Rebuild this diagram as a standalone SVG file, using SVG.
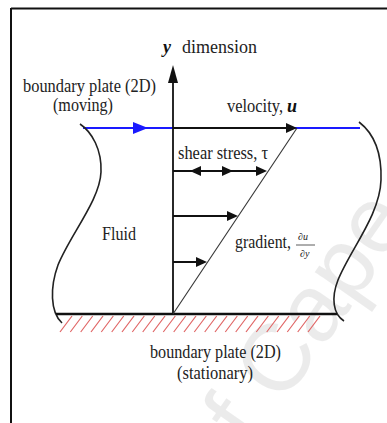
<svg xmlns="http://www.w3.org/2000/svg" width="387" height="423" viewBox="0 0 387 423">
<style>
.t{font-family:"Liberation Serif","Times New Roman",serif;font-size:18px;fill:#222;}
.bi{font-weight:bold;font-style:italic;fill:#111;}
.sm{font-size:10px;font-style:italic;}
.curve{fill:none;stroke:#222;stroke-width:1.6;}
.arr{stroke:#111;stroke-width:2;fill:none;}
.hatch{stroke:#e06565;stroke-width:1.2;}
.wm{font-family:"Liberation Sans",Arial,sans-serif;font-size:95px;fill:#000;fill-opacity:0.08;}
</style>
<defs>
<path id="ah" d="M0,0 L-11,-5 L-11,5 Z" fill="#111"/>
</defs>
<rect width="387" height="423" fill="#fff"/>
<g id="frame">
<line x1="11" y1="8.5" x2="387" y2="8.5" stroke="#111" stroke-width="2"/>
<line x1="11" y1="8" x2="11" y2="423" stroke="#111" stroke-width="2"/>
</g>
<g id="watermark">
<text class="wm" transform="translate(222,492) rotate(-55)">of Cape</text>
</g>
<g id="moving-plate">
<line x1="83" y1="128" x2="360" y2="128" stroke="#1a1aff" stroke-width="2"/>
<path d="M148,128 L133,122 L133,134 Z" fill="#1a1aff"/>
<text class="t" x="23" y="92" textLength="133" lengthAdjust="spacingAndGlyphs">boundary plate (2D)</text>
<text class="t" x="53" y="111" textLength="60" lengthAdjust="spacingAndGlyphs">(moving)</text>
</g>
<g id="fluid">
<path class="curve" d="M80,124 C 92,132 102,150 101,172 C 100,200 70,235 58,265 C 50,287 50,312 62,323"/>
<path class="curve" d="M359,122 C 372,132 382,150 381,180 C 380,215 350,250 338,280 C 331,298 333,314 344,321"/>
<text class="t" x="102" y="240" textLength="34" lengthAdjust="spacingAndGlyphs">Fluid</text>
</g>
<g id="stationary-plate">
<line x1="56" y1="314" x2="337" y2="314" stroke="#111" stroke-width="2.4"/>
<g class="hatch">
<line x1="60" y1="332" x2="72" y2="316"/>
<line x1="70.3" y1="332" x2="82.3" y2="316"/>
<line x1="80.7" y1="332" x2="92.7" y2="316"/>
<line x1="91" y1="332" x2="103" y2="316"/>
<line x1="101.3" y1="332" x2="113.3" y2="316"/>
<line x1="111.7" y1="332" x2="123.7" y2="316"/>
<line x1="122" y1="332" x2="134" y2="316"/>
<line x1="132.3" y1="332" x2="144.3" y2="316"/>
<line x1="142.7" y1="332" x2="154.7" y2="316"/>
<line x1="153" y1="332" x2="165" y2="316"/>
<line x1="163.3" y1="332" x2="175.3" y2="316"/>
<line x1="173.7" y1="332" x2="185.7" y2="316"/>
<line x1="184" y1="332" x2="196" y2="316"/>
<line x1="194.3" y1="332" x2="206.3" y2="316"/>
<line x1="204.7" y1="332" x2="216.7" y2="316"/>
<line x1="215" y1="332" x2="227" y2="316"/>
<line x1="225.3" y1="332" x2="237.3" y2="316"/>
<line x1="235.7" y1="332" x2="247.7" y2="316"/>
<line x1="246" y1="332" x2="258" y2="316"/>
<line x1="256.3" y1="332" x2="268.3" y2="316"/>
<line x1="266.7" y1="332" x2="278.7" y2="316"/>
<line x1="277" y1="332" x2="289" y2="316"/>
<line x1="287.3" y1="332" x2="299.3" y2="316"/>
<line x1="297.7" y1="332" x2="309.7" y2="316"/>
<line x1="308" y1="332" x2="320" y2="316"/>
</g>
<text class="t" x="150" y="358" textLength="131" lengthAdjust="spacingAndGlyphs">boundary plate (2D)</text>
<text class="t" x="177" y="379" textLength="76" lengthAdjust="spacingAndGlyphs">(stationary)</text>
</g>
<g id="y-axis-label">
<text class="t" x="163" y="53"><tspan class="bi">y</tspan><tspan x="182">dimension</tspan></text>
</g>
<g id="velocity-label">
<text class="t" x="227" y="112"><tspan textLength="56" lengthAdjust="spacingAndGlyphs">velocity,</tspan><tspan class="bi" x="287">u</tspan></text>
</g>
<g id="shear-label">
<text class="t" x="178" y="159" textLength="90" lengthAdjust="spacingAndGlyphs">shear stress, τ</text>
</g>
<g id="gradient-label">
<text class="t" x="235" y="248"><tspan textLength="56" lengthAdjust="spacingAndGlyphs">gradient,</tspan><tspan class="sm" x="298" y="240">∂u</tspan><tspan class="sm" x="300" y="257">∂y</tspan></text>
<line x1="296" y1="245" x2="315" y2="245" stroke="#333" stroke-width="0.8"/>
</g>
<g id="connectors">
<line x1="173" y1="314" x2="173" y2="80" stroke="#111" stroke-width="1.8"/>
<path d="M173,65 L168,83 L178,83 Z" fill="#111"/>
<line x1="173" y1="314" x2="297" y2="128" stroke="#333" stroke-width="1.1"/>
<line class="arr" x1="173" y1="128" x2="288" y2="128"/>
<use href="#ah" x="297" y="128"/>
<line class="arr" x1="173" y1="171" x2="258" y2="171"/>
<use href="#ah" transform="translate(190,171) rotate(180)"/>
<use href="#ah" x="233" y="171"/>
<use href="#ah" x="267" y="171"/>
<line class="arr" x1="173" y1="216" x2="229" y2="216"/>
<use href="#ah" x="238" y="216"/>
<line class="arr" x1="173" y1="262" x2="198" y2="262"/>
<use href="#ah" x="207" y="262"/>
</g>
</svg>
